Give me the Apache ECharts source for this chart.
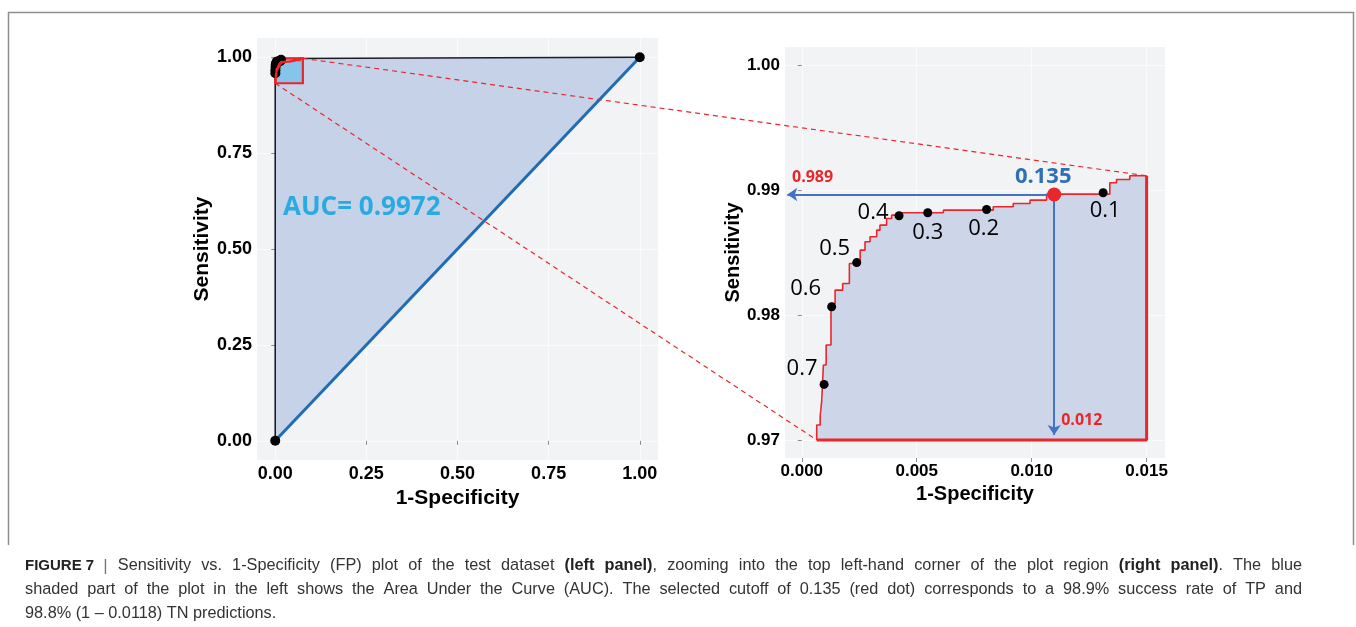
<!DOCTYPE html>
<html><head><meta charset="utf-8">
<script src="https://cdn.jsdelivr.net/npm/echarts@6/dist/echarts.min.js"></script>
<style>html,body{margin:0;padding:0;background:#fff;}#c{width:1356px;height:627px;}</style>
</head><body><div id="c"></div>
<script>
// ---------- Left panel data ----------
const leftTicks = [0, 0.25, 0.5, 0.75, 1];
const leftRocFpr = [0, 0, 0.0007, 0.0013, 0.0043, 0.0134, 0.016, 1];
const leftRocTpr = [0, 0.955, 0.9745, 0.9807, 0.988, 0.9898, 0.9965, 1];
const chanceFpr = [0, 1];
const chanceTpr = [0, 1];
const endpointFpr = [0, 1];
const endpointTpr = [0, 1];
const extraDotFpr = [0.0005, 0.0004, 0.016];
const extraDotTpr = [0.966, 0.958, 0.993];
const boxFpr = [0, 0.0758];
const boxTpr = [0.932, 0.997];
const aucText = 'AUC= 0.9972';

// ---------- Right panel data ----------
const rightXTicks = [0, 0.005, 0.010, 0.015];
const rightYTicks = [0.97, 0.98, 0.99, 1.00];
const riserFpr = [0.00065, 0.0008, 0.00087, 0.00094, 0.00106, 0.00127, 0.00145, 0.00178, 0.00207, 0.00254,
  0.00275, 0.00297, 0.00326, 0.0034, 0.00369, 0.00391, 0.00427, 0.00616, 0.00833, 0.0092,
  0.00993, 0.01065, 0.0134, 0.01369, 0.01427];
const riserTpr = [0.9712, 0.97187, 0.9732, 0.976, 0.9776, 0.98093, 0.982, 0.98253, 0.98413, 0.9852,
  0.98587, 0.98627, 0.9868, 0.9872, 0.98773, 0.988, 0.98819, 0.9884, 0.98867, 0.98893,
  0.9892, 0.98968, 0.99059, 0.99085, 0.99115];
const zoomBaseTpr = 0.97;
const zoomEndFpr = 0.015;
const cutoffs = ['0.1', '0.2', '0.3', '0.4', '0.5', '0.6', '0.7'];
const cutoffFpr = [0.01311, 0.00804, 0.00548, 0.00423, 0.00239, 0.0013, 0.00097];
const cutoffTpr = [0.98979, 0.98845, 0.98819, 0.98795, 0.9842, 0.98067, 0.97445];
const selectedCutoff = '0.135';
const selectedFpr = 0.01098;
const selectedTpr = 0.98965;
const selectedTprText = '0.989';
const selectedFprText = '0.012';

// ---------- Caption text ----------
const captionLines = [
  [['FIGURE\u00a07', 'f'], ['\u00a0\u00a0', 'n'], ['|', 's'], [' Sensitivity vs. 1-Specificity (FP) plot of the test dataset ', 'n'],
   ['(left panel)', 'b'], [', zooming into the top left-hand corner of the plot region ', 'n'],
   ['(right panel)', 'b'], ['. The blue', 'n']],
  [['shaded part of the plot in the left shows the Area Under the Curve (AUC). The selected cutoff of 0.135 (red dot) corresponds to a 98.9% success rate of TP and', 'n']],
  [['98.8% (1 \u2013 0.0118) TN predictions.', 'n']]
];
const captionJustify = [true, true, false];

// ---------- Build derived geometry from data ----------
const stepPts = [[riserFpr[0], zoomBaseTpr]];
riserFpr.forEach((x, i) => {
  if (i > 0) stepPts.push([x, riserTpr[i - 1]]);
  stepPts.push([x, riserTpr[i]]);
});
const lastTpr = riserTpr[riserTpr.length - 1];
stepPts.push([zoomEndFpr, lastTpr]);
const edgePts = [[zoomEndFpr, lastTpr], [zoomEndFpr, zoomBaseTpr], [riserFpr[0], zoomBaseTpr]];
const polyPts = stepPts.concat([[zoomEndFpr, zoomBaseTpr]]);

const zx0 = riserFpr[0], zx1 = zoomEndFpr, zy0 = zoomBaseTpr, zy1 = lastTpr;
const toBox = p => [boxFpr[0] + (p[0] - zx0) / (zx1 - zx0) * (boxFpr[1] - boxFpr[0]),
                    boxTpr[0] + (p[1] - zy0) / (zy1 - zy0) * (boxTpr[1] - boxTpr[0])];
const boxCurve = stepPts.map(toBox);

const RED = '#e8262b';
const labelOffsets = [[2, 18], [-3, 19], [0, 20], [-26, -3], [-22, -14], [-26, -18], [-22, -16]];

const tickFontL = {fontFamily: 'Liberation Sans', fontWeight: 'bold', fontSize: 18, color: '#000'};
const tickFontR = {fontFamily: 'Liberation Sans', fontWeight: 'bold', fontSize: 17, color: '#000'};
const nameFont = size => ({fontFamily: 'Liberation Sans', fontWeight: 'bold', fontSize: size, color: '#000'});

function valueAxis(gridIndex, min, max, ticks, digits, font, name, gap, nameSize) {
  return {
    type: 'value', gridIndex, min, max, name, nameLocation: 'middle', nameGap: gap,
    nameTextStyle: nameFont(nameSize),
    axisLine: {show: false},
    axisTick: {show: true, length: 4, customValues: ticks, lineStyle: {color: '#8c8c8c'}},
    axisLabel: {customValues: ticks, margin: 5, formatter: v => v.toFixed(digits), ...font},
    splitLine: {show: true, lineStyle: {color: '#fbfbfc', width: 1}}
  };
}

// ---------- Caption layout (justified words) ----------
const capStyles = {
  n: {font: '16.3px "Liberation Sans"', fill: '#333'},
  b: {font: 'bold 16.3px "Liberation Sans"', fill: '#222'},
  f: {font: 'bold 15px "Liberation Sans Narrow", "Liberation Sans"', fill: '#222'},
  s: {font: '17px "Liberation Sans"', fill: '#777'}
};
const mctx = document.createElement('canvas').getContext('2d');
function measure(t, st) { mctx.font = capStyles[st].font; return mctx.measureText(t).width; }
const capLeft = 25, capRight = 1302;
const captionGraphics = [];
captionLines.forEach((segs, li) => {
  const words = [];
  let cur = [];
  segs.forEach(([text, st]) => {
    const parts = text.split(' ');
    parts.forEach((p, pi) => {
      if (pi > 0) { if (cur.length) words.push(cur); cur = []; }
      if (p.length) cur.push([p, st]);
    });
  });
  if (cur.length) words.push(cur);
  const widths = words.map(w => w.reduce((s, [t, st]) => s + measure(t, st), 0));
  const total = widths.reduce((a, b) => a + b, 0);
  const space = captionJustify[li] ? (capRight - capLeft - total) / (words.length - 1) : measure(' ', 'n');
  let x = capLeft;
  const y = 566 + li * 24;
  words.forEach((w, wi) => {
    let px = x;
    w.forEach(([t, st], k) => {
      captionGraphics.push({id: 'cap' + li + '_' + wi + '_' + k, type: 'text', silent: true,
        style: {x: px, y, text: t, font: capStyles[st].font, fill: capStyles[st].fill, verticalAlign: 'middle'}});
      px += measure(t, st);
    });
    x += widths[wi] + space;
  });
});

const chart = echarts.init(document.getElementById('c'), null, {renderer: 'canvas'});

const option = {
  animation: false,
  backgroundColor: '#ffffff',
  grid: [
    {left: 257, top: 38, width: 401, height: 422, show: true, backgroundColor: '#f2f3f5', borderWidth: 0},
    {left: 785, top: 47, width: 380, height: 411, show: true, backgroundColor: '#f2f3f5', borderWidth: 0}
  ],
  xAxis: [
    valueAxis(0, -0.05, 1.05, leftTicks, 2, tickFontL, '1-Specificity', 24, 21),
    valueAxis(1, -0.00073, 0.0158, rightXTicks, 3, tickFontR, '1-Specificity', 23, 20)
  ],
  yAxis: [
    valueAxis(0, -0.05, 1.05, leftTicks, 2, tickFontL, 'Sensitivity', 40, 21),
    valueAxis(1, 0.96856, 1.00146, rightYTicks, 2, tickFontR, 'Sensitivity', 36, 20)
  ],
  series: [
    // ----- left panel -----
    {
      type: 'custom', xAxisIndex: 0, yAxisIndex: 0, silent: true, z: 1, data: [[0, 0]],
      renderItem: (params, api) => ({
        type: 'polygon',
        shape: {points: leftRocFpr.map((x, i) => api.coord([x, leftRocTpr[i]]))},
        style: {fill: '#c6d2e7'}
      })
    },
    {
      type: 'line', xAxisIndex: 0, yAxisIndex: 0, silent: true, z: 3, symbol: 'none',
      data: leftRocFpr.map((x, i) => [x, leftRocTpr[i]]),
      lineStyle: {color: '#1c1c28', width: 1.6}
    },
    {
      type: 'line', xAxisIndex: 0, yAxisIndex: 0, silent: true, z: 4, symbol: 'none',
      data: chanceFpr.map((x, i) => [x, chanceTpr[i]]),
      lineStyle: {color: '#1f6cb5', width: 3}
    },
    {
      type: 'custom', xAxisIndex: 0, yAxisIndex: 0, silent: true, z: 4, data: [[0, 0]],
      renderItem: (params, api) => {
        const c = boxCurve.map(p => api.coord(p));
        const bl = api.coord([boxFpr[0], boxTpr[0]]);
        const tr = api.coord([boxFpr[1], boxTpr[1]]);
        const br = api.coord([boxFpr[1], boxTpr[0]]);
        return {
          type: 'group', children: [
            {type: 'polygon', shape: {points: c.concat([br])}, style: {fill: '#86c5e9'}},
            {type: 'rect', shape: {x: bl[0], y: tr[1], width: tr[0] - bl[0], height: bl[1] - tr[1]},
             style: {stroke: RED, lineWidth: 2.2, fill: null}}
          ]
        };
      }
    },
    {
      type: 'scatter', xAxisIndex: 0, yAxisIndex: 0, silent: true, z: 5, symbolSize: 10,
      itemStyle: {color: '#000', opacity: 1},
      data: endpointFpr.map((x, i) => [x, endpointTpr[i]])
        .concat(cutoffFpr.map((x, i) => [x, cutoffTpr[i]]))
        .concat(extraDotFpr.map((x, i) => [x, extraDotTpr[i]]))
    },
    {
      type: 'custom', xAxisIndex: 0, yAxisIndex: 0, silent: true, z: 6, data: [[0, 0]],
      renderItem: (params, api) => ({
        type: 'polyline', shape: {points: boxCurve.map(p => api.coord(p))},
        style: {stroke: RED, lineWidth: 2.2, fill: null}
      })
    },
    // ----- right panel -----
    {
      type: 'custom', xAxisIndex: 1, yAxisIndex: 1, silent: true, z: 1, data: [[0, 0]],
      renderItem: (params, api) => ({
        type: 'polygon',
        shape: {points: polyPts.map(p => api.coord(p))},
        style: {fill: '#cdd6e8'}
      })
    },
    {
      type: 'line', xAxisIndex: 1, yAxisIndex: 1, silent: true, z: 3, symbol: 'none',
      data: stepPts, lineStyle: {color: RED, width: 1.6}
    },
    {
      type: 'line', xAxisIndex: 1, yAxisIndex: 1, silent: true, z: 3, symbol: 'none',
      data: edgePts, lineStyle: {color: RED, width: 3}
    },
    {
      type: 'scatter', xAxisIndex: 1, yAxisIndex: 1, silent: true, z: 5, symbolSize: 9,
      itemStyle: {color: '#000', opacity: 1},
      data: cutoffFpr.map((x, i) => ({
        value: [x, cutoffTpr[i]],
        label: {show: true, position: 'inside', offset: labelOffsets[i], formatter: cutoffs[i],
                fontFamily: 'Open Sans', fontSize: 22, color: '#000', textBorderWidth: 0}
      }))
    },
    {
      type: 'scatter', xAxisIndex: 1, yAxisIndex: 1, silent: true, z: 6, symbolSize: 14,
      itemStyle: {color: RED, opacity: 1},
      data: [{value: [selectedFpr, selectedTpr]}],
      label: {show: true, position: 'inside', offset: [-11, -18], formatter: selectedCutoff,
              fontFamily: 'Open Sans', fontWeight: 'bold', fontSize: 22, color: '#2e6fb5', textBorderWidth: 0},
      markLine: {
        silent: true, symbol: ['none', 'arrow'], symbolSize: 10, label: {show: false},
        lineStyle: {color: '#4472c4', width: 2, type: 'solid', opacity: 1},
        data: [
          [{coord: [selectedFpr, selectedTpr]}, {coord: [-0.00063, selectedTpr]}],
          [{coord: [selectedFpr, selectedTpr]}, {coord: [selectedFpr, zoomBaseTpr + 0.0004]}]
        ]
      }
    },
    {
      type: 'scatter', xAxisIndex: 1, yAxisIndex: 1, silent: true, z: 6, symbolSize: 0,
      itemStyle: {opacity: 1},
      data: [
        {value: [-0.00073, selectedTpr], label: {formatter: selectedTprText, offset: [2, -17]}},
        {value: [selectedFpr, zoomBaseTpr], label: {formatter: selectedFprText, offset: [2, -20]}}
      ],
      label: {show: true, position: 'right', fontFamily: 'Open Sans', fontWeight: 'bold', fontSize: 16, color: RED, textBorderWidth: 0}
    }
  ],
  graphic: [
    {id: 'frameTop', type: 'line', shape: {x1: 8, y1: 12.5, x2: 1354, y2: 12.5}, style: {stroke: '#8f8f8f', lineWidth: 1.5}},
    {id: 'frameLeft', type: 'line', shape: {x1: 8.5, y1: 12, x2: 8.5, y2: 545}, style: {stroke: '#8f8f8f', lineWidth: 1.5}},
    {id: 'frameRight', type: 'line', shape: {x1: 1353.5, y1: 12, x2: 1353.5, y2: 545}, style: {stroke: '#8f8f8f', lineWidth: 1.5}},
    {id: 'auc', type: 'text', z: 20, style: {x: 283, y: 208, text: aucText, font: 'bold 26px "Open Sans"', fill: '#29abe2', verticalAlign: 'middle'}},
    ...captionGraphics
  ]
};

chart.setOption(option);

// dashed zoom connectors, computed through both grids' scales
const a1 = chart.convertToPixel({gridIndex: 0}, [boxFpr[1], boxTpr[1]]);
const a2 = chart.convertToPixel({gridIndex: 1}, [zoomEndFpr, lastTpr]);
const b1 = chart.convertToPixel({gridIndex: 0}, [boxFpr[0], boxTpr[0]]);
const b2 = chart.convertToPixel({gridIndex: 1}, [riserFpr[0], zoomBaseTpr]);
chart.setOption({
  graphic: [
    {id: 'dashTop', type: 'line', z: 30, shape: {x1: a1[0], y1: a1[1], x2: a2[0], y2: a2[1]}, style: {stroke: RED, lineWidth: 1.2, lineDash: [5, 4]}},
    {id: 'dashBottom', type: 'line', z: 30, shape: {x1: b1[0], y1: b1[1], x2: b2[0], y2: b2[1]}, style: {stroke: RED, lineWidth: 1.2, lineDash: [5, 4]}}
  ]
});
</script>
</body></html>
